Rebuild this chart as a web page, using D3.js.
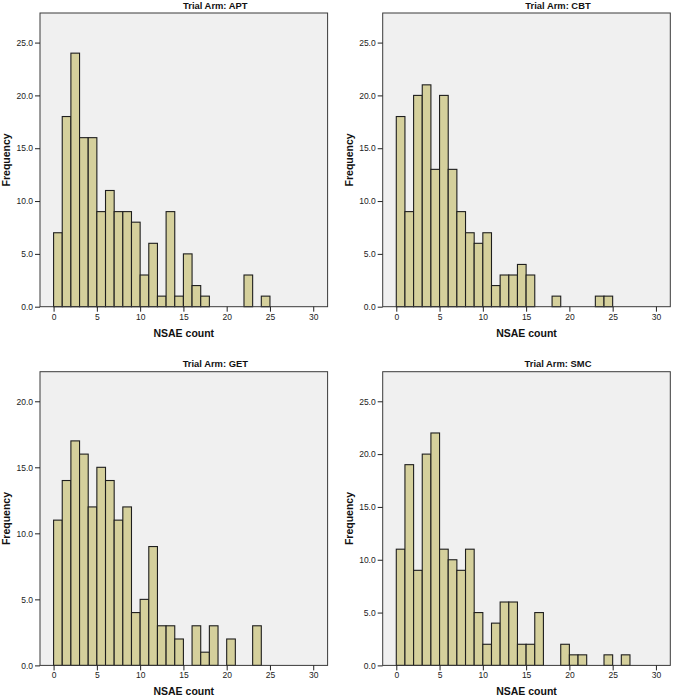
<!DOCTYPE html>
<html>
<head>
<meta charset="utf-8">
<script src="https://cdn.jsdelivr.net/npm/d3@7"></script>
<style>
  html, body { margin: 0; padding: 0; background: #ffffff; }
  svg { display: block; }
  text { font-family: "Liberation Sans", Arial, sans-serif; }
</style>
</head>
<body>
<svg id="chart" width="673" height="697"></svg>
<script>
// ---- data (bin start = index, bin width = 1) ----
const arms = ["APT", "CBT", "GET", "SMC"];
const countsAPT = [7,18,24,16,16,9,11,9,9,8,3,6,1,9,1,5,2,1,0,0,0,0,3,0,1];
const countsCBT = [18,9,20,21,13,20,13,9,7,6,7,2,3,3,4,3,0,0,1,0,0,0,0,1,1];
const countsGET = [11,14,17,16,12,15,14,11,12,4,5,9,3,3,2,0,3,1,3,0,2,0,0,3];
const countsSMC = [11,19,9,20,22,11,10,9,11,5,2,4,6,6,2,2,5,0,0,2,1,1,0,0,1,0,1];
const xTicks = [0, 5, 10, 15, 20, 25, 30];
const yTicksAPT = [0, 5, 10, 15, 20, 25];
const yTicksCBT = [0, 5, 10, 15, 20, 25];
const yTicksGET = [0, 5, 10, 15, 20];
const yTicksSMC = [0, 5, 10, 15, 20, 25];
const yMaxAPT = 27.8, yMaxCBT = 27.8, yMaxGET = 22.24, yMaxSMC = 27.8;
const xDomain = [-1.57, 31.66];
const xLabel = "NSAE count";
const yLabel = "Frequency";
const titlePrefix = "Trial Arm: ";

const panels = [
  { arm: arms[0], counts: countsAPT, yTicks: yTicksAPT, yMax: yMaxAPT, left: 40,    top: 13 },
  { arm: arms[1], counts: countsCBT, yTicks: yTicksCBT, yMax: yMaxCBT, left: 382.7, top: 13 },
  { arm: arms[2], counts: countsGET, yTicks: yTicksGET, yMax: yMaxGET, left: 40,    top: 371.7 },
  { arm: arms[3], counts: countsSMC, yTicks: yTicksSMC, yMax: yMaxSMC, left: 382.7, top: 371.7 }
];

const W = 287.6, H = 293.7;
const svg = d3.select("#chart");

panels.forEach(p => {
  const g = svg.append("g").attr("transform", `translate(${p.left},${p.top})`);
  const x = d3.scaleLinear().domain(xDomain).range([0, W]);
  const y = d3.scaleLinear().domain([0, p.yMax]).range([H, 0]);

  // plot background
  g.append("rect").attr("x", 0).attr("y", 0).attr("width", W).attr("height", H)
    .attr("fill", "#f0f0f0");

  // bars
  const bins = p.counts.map((c, i) => ({ x0: i, x1: i + 1, n: c })).filter(d => d.n > 0);
  g.selectAll("rect.bar").data(bins).enter().append("rect")
    .attr("class", "bar")
    .attr("x", d => x(d.x0))
    .attr("y", d => y(d.n))
    .attr("width", d => x(d.x1) - x(d.x0))
    .attr("height", d => y(0) - y(d.n))
    .attr("fill", "#d5d09c")
    .attr("stroke", "#1e1e1e")
    .attr("stroke-width", 1.1);

  // frame
  g.append("rect").attr("x", 0).attr("y", 0).attr("width", W).attr("height", H)
    .attr("fill", "none").attr("stroke", "#3a3a3a").attr("stroke-width", 1);

  // x axis
  const xa = g.append("g").attr("transform", `translate(0,${H})`)
    .call(d3.axisBottom(x).tickValues(xTicks).tickFormat(d3.format("d")).tickSizeOuter(0).tickSize(5).tickPadding(2));
  xa.select(".domain").remove();
  xa.selectAll("line").attr("stroke", "#222");
  xa.selectAll("text").attr("font-size", "8.5px").attr("fill", "#222")
    .attr("font-family", "'Liberation Sans', Arial, sans-serif");

  // y axis
  const ya = g.append("g")
    .call(d3.axisLeft(y).tickValues(p.yTicks).tickFormat(d3.format(".1f")).tickSizeOuter(0).tickSize(5).tickPadding(2));
  ya.select(".domain").remove();
  ya.selectAll("line").attr("stroke", "#222");
  ya.selectAll("text").attr("font-size", "8.5px").attr("fill", "#222")
    .attr("font-family", "'Liberation Sans', Arial, sans-serif");

  // title
  g.append("text").attr("x", W / 2 + 31.5).attr("y", -4.5)
    .attr("text-anchor", "middle").attr("font-size", "9.4px").attr("font-weight", "bold")
    .attr("fill", "#111").text(titlePrefix + p.arm);

  // x label
  g.append("text").attr("x", W / 2).attr("y", H + 30)
    .attr("text-anchor", "middle").attr("font-size", "10.5px").attr("font-weight", "bold")
    .attr("fill", "#111").text(xLabel);

  // y label
  g.append("text").attr("transform", `translate(-30,${H / 2}) rotate(-90)`)
    .attr("text-anchor", "middle").attr("font-size", "10.5px").attr("font-weight", "bold")
    .attr("fill", "#111").text(yLabel);
});
</script>
</body>
</html>
